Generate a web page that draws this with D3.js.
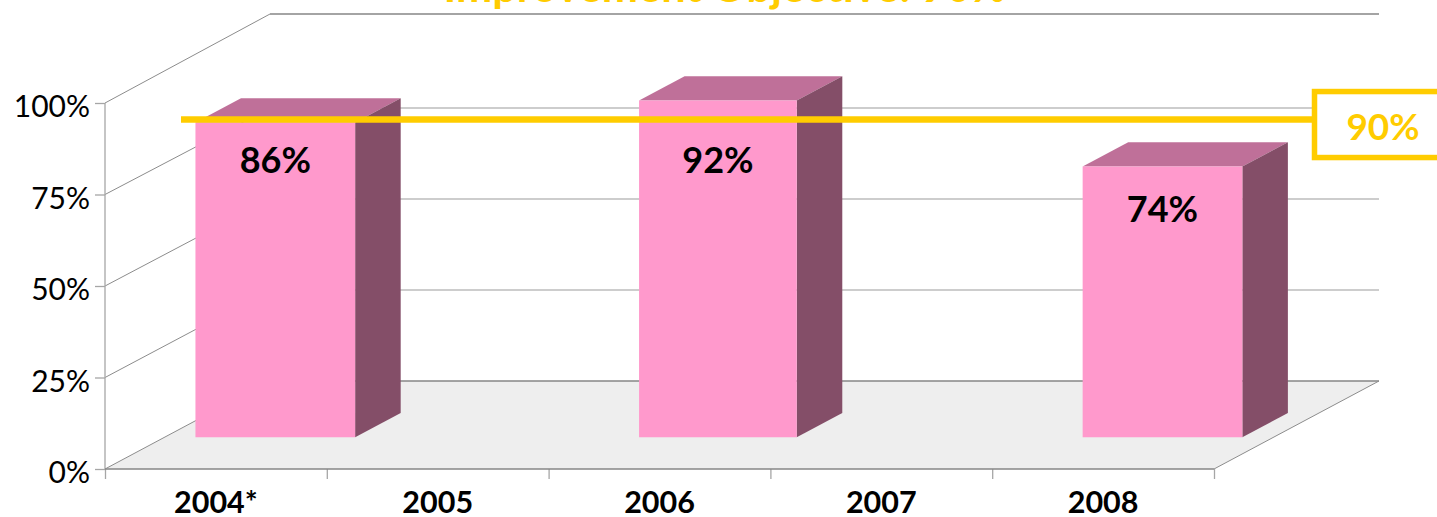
<!DOCTYPE html>
<html>
<head>
<meta charset="utf-8">
<script src="https://cdn.jsdelivr.net/npm/d3@7"></script>
<style>
  html, body { margin: 0; background: #fff; overflow: hidden; }
  svg { display: block; font-family: Lato, sans-serif; }
  .domain { display: none; }
</style>
</head>
<body>
<div id="chart"></div>
<script>
const years = ['2004*', '2005', '2006', '2007', '2008'];
const rates = [86, null, 92, null, 74];
const yTicks = [0, 25, 50, 75, 100];
const objective = 90;
const titleText = 'Improvement Objective: 90%';

const svgWidth = 1437;
const svgHeight = 517;

// front plane of the 3D box and how far the depth axis pushes things
const plot = { left: 105, right: 1214, top: 103, bottom: 469 };
const depthDx = 165;
const depthDy = 88;

const gold = '#ffcc00';
const barFront = '#ff99cc';
const barTop = '#bf7099';
const barSide = '#844e68';

const svg = d3.select('#chart')
    .append('svg')
    .attr('width', svgWidth)
    .attr('height', svgHeight);

const xScale = d3.scaleBand()
    .domain(years)
    .range([plot.left, plot.right])
    .paddingInner(0.28)
    .paddingOuter(0.14);

const xEdges = d3.scaleLinear()
    .domain([0, years.length])
    .range([plot.left, plot.right]);

const yScale = d3.scaleLinear()
    .domain([0, 100])
    .range([plot.bottom, plot.top]);

// the back wall is not spaced quite evenly in the original
const backY = d3.scaleLinear()
    .domain([0, 75, 100])
    .range([381, 108, 14]);

// depth 0 = front plane, 1 = back wall
const project = (x, value, depth) => [
    x + depth * depthDx,
    yScale(value) - depth * depthDy
];
const polygon = points => points.map(p => p.join(',')).join(' ');

// floor
svg.append('polygon')
    .attr('points', polygon([
        project(plot.left, 0, 0),
        project(plot.right, 0, 0),
        project(plot.right, 0, 1),
        project(plot.left, 0, 1)
    ]))
    .attr('fill', '#eeeeee');

// back wall gridlines
svg.selectAll('.back-grid')
    .data(yTicks)
    .join('line')
    .attr('class', 'back-grid')
    .attr('x1', plot.left + depthDx)
    .attr('x2', plot.right + depthDx)
    .attr('y1', d => backY(d))
    .attr('y2', d => backY(d))
    .attr('stroke', d => (d === 0 || d === 100) ? '#868686' : '#bdbdbd')
    .attr('stroke-width', 1.3);

// left wall gridlines
svg.selectAll('.side-grid')
    .data(yTicks)
    .join('line')
    .attr('class', 'side-grid')
    .attr('x1', plot.left)
    .attr('y1', d => yScale(d))
    .attr('x2', plot.left + depthDx)
    .attr('y2', d => backY(d))
    .attr('stroke', '#8c8c8c')
    .attr('stroke-width', 1);

// right floor edge
svg.append('line')
    .attr('x1', plot.right)
    .attr('y1', yScale(0))
    .attr('x2', project(plot.right, 0, 1)[0])
    .attr('y2', project(plot.right, 0, 1)[1])
    .attr('stroke', '#8c8c8c');

// axes
const yAxis = svg.append('g')
    .attr('transform', `translate(${plot.left}, 0)`)
    .call(d3.axisLeft(yScale)
        .tickValues(yTicks)
        .tickFormat(d => d + '%')
        .tickSize(10)
        .tickPadding(5));
yAxis.selectAll('line').attr('stroke', '#a6a6a6').attr('stroke-width', 1.3);
yAxis.selectAll('text')
    .attr('font-size', 30)
    .attr('dy', '0.46em')
    .attr('fill', '#000')
    .attr('font-family', 'Lato');

svg.append('line')
    .attr('x1', plot.left)
    .attr('x2', plot.left)
    .attr('y1', yScale(100))
    .attr('y2', yScale(0))
    .attr('stroke', '#a6a6a6')
    .attr('stroke-width', 1.3);

const xTicks = svg.append('g')
    .attr('transform', `translate(0, ${plot.bottom})`)
    .call(d3.axisBottom(xEdges)
        .tickValues(d3.range(years.length + 1))
        .tickFormat('')
        .tickSize(10));
xTicks.selectAll('line').attr('stroke', '#a6a6a6').attr('stroke-width', 1.3);

svg.append('line')
    .attr('x1', plot.left)
    .attr('x2', plot.right)
    .attr('y1', yScale(0))
    .attr('y2', yScale(0))
    .attr('stroke', '#868686')
    .attr('stroke-width', 1.3);

const xLabels = svg.append('g')
    .attr('transform', `translate(0, ${plot.bottom})`)
    .call(d3.axisBottom(xScale).tickSize(0).tickPadding(22));
xLabels.selectAll('text')
    .attr('font-size', 30.5)
    .attr('font-weight', 700)
    .attr('font-family', 'Lato')
    .attr('fill', '#000');

// bars
const barDepth = [0.36, 0.636];
// the 2006 bar is a little narrower in the original
const barTrim = { '2006': 2 };
const bars = svg.selectAll('.bar')
    .data(years.map((year, i) => ({ year, rate: rates[i] })).filter(d => d.rate !== null))
    .join('g')
    .attr('class', 'bar');

const barWidth = d => xScale.bandwidth() - (barTrim[d.year] || 0);
const corner = (d, side, value, depth) =>
    project(xScale(d.year) + (side ? barWidth(d) : 0), value, depth);

bars.append('polygon')
    .attr('fill', barTop)
    .attr('points', d => polygon([
        corner(d, 0, d.rate, barDepth[0]),
        corner(d, 1, d.rate, barDepth[0]),
        corner(d, 1, d.rate, barDepth[1]),
        corner(d, 0, d.rate, barDepth[1])
    ]));

bars.append('polygon')
    .attr('fill', barSide)
    .attr('points', d => polygon([
        corner(d, 1, 0, barDepth[0]),
        corner(d, 1, d.rate, barDepth[0]),
        corner(d, 1, d.rate, barDepth[1]),
        corner(d, 1, 0, barDepth[1])
    ]));

bars.append('polygon')
    .attr('fill', barFront)
    .attr('points', d => polygon([
        corner(d, 0, 0, barDepth[0]),
        corner(d, 1, 0, barDepth[0]),
        corner(d, 1, d.rate, barDepth[0]),
        corner(d, 0, d.rate, barDepth[0])
    ]));

// the value labels were placed by hand in the original, so each has its own drop
const labelDrop = { '2004*': 50, '2006': 72, '2008': 56 };
bars.append('text')
    .attr('x', d => corner(d, 0, d.rate, barDepth[0])[0] + barWidth(d) / 2)
    .attr('y', d => corner(d, 0, d.rate, barDepth[0])[1] + labelDrop[d.year])
    .attr('text-anchor', 'middle')
    .attr('font-size', 36)
    .attr('font-weight', 700)
    .attr('fill', '#000')
    .text(d => d.rate + '%');

// objective line with its boxed label
const lineDepth = 0.228;
const lineY = project(0, objective, lineDepth)[1];
const boxLeft = 1314.5;

svg.append('line')
    .attr('x1', 181)
    .attr('x2', boxLeft)
    .attr('y1', lineY)
    .attr('y2', lineY)
    .attr('stroke', gold)
    .attr('stroke-width', 6.5);

svg.append('rect')
    .attr('x', boxLeft)
    .attr('y', lineY - 28)
    .attr('width', 140)
    .attr('height', 66)
    .attr('fill', '#fff')
    .attr('stroke', gold)
    .attr('stroke-width', 5.5);

svg.append('text')
    .attr('x', 1383)
    .attr('y', lineY + 20)
    .attr('text-anchor', 'middle')
    .attr('font-size', 37)
    .attr('font-weight', 700)
    .attr('fill', gold)
    .text(objective + '%');

// title runs off the top of the picture
svg.append('text')
    .attr('x', 725)
    .attr('y', 2)
    .attr('text-anchor', 'middle')
    .attr('font-size', 43.3)
    .attr('font-weight', 700)
    .attr('fill', gold)
    .text(titleText);
</script>
</body>
</html>
